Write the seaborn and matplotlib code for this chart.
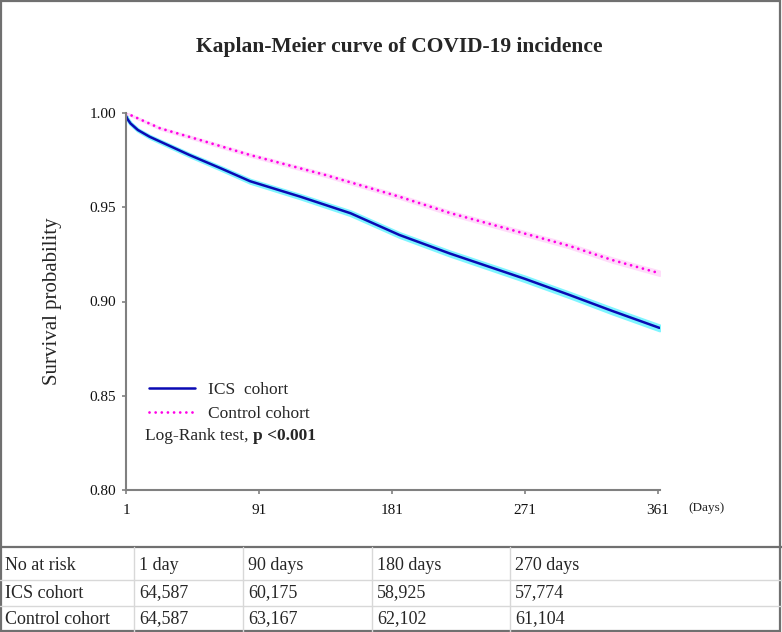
import seaborn as sns
import matplotlib.pyplot as plt
import pandas as pd
from matplotlib.patches import Rectangle
from matplotlib.lines import Line2D

# values
ics_days = [1, 2, 4, 9, 17, 44, 65, 85, 119, 153, 186, 220, 271, 301, 330, 362]
ics_surv = [0.9985, 0.9968, 0.9945, 0.991, 0.9874, 0.9777, 0.9707, 0.9638, 0.9556,
            0.9468, 0.9353, 0.9255, 0.912, 0.9035, 0.895, 0.886]
ics_band = [0.0, 0.0002, 0.0003, 0.0003, 0.0004, 0.0005, 0.0006, 0.0007, 0.0008,
            0.0009, 0.0009, 0.001, 0.0011, 0.0011, 0.0012, 0.0012]

ctrl_days = [1, 24, 51, 85, 136, 186, 220, 271, 301, 330, 362]
ctrl_surv = [1.000, 0.9919, 0.9857, 0.9777, 0.9671, 0.9556, 0.947, 0.936, 0.9295,
             0.922, 0.915]
ctrl_band = [0.0, 0.0003, 0.0004, 0.0005, 0.0006, 0.0007, 0.0008, 0.0009, 0.0009,
             0.001, 0.001]

x_ticks = [1, 91, 181, 271, 361]
y_ticks = [0.80, 0.85, 0.90, 0.95, 1.00]

risk_header = ["No at risk", "1 day", "90 days", "180 days", "270 days"]
risk_ics = ["ICS cohort", "64,587", "60,175", "58,925", "57,774"]
risk_ctrl = ["Control cohort", "64,587", "63,167", "62,102", "61,104"]

ics = pd.DataFrame({"day": ics_days, "surv": ics_surv, "band": ics_band})
ctrl = pd.DataFrame({"day": ctrl_days, "surv": ctrl_surv, "band": ctrl_band})

sns.set_style("ticks")
plt.rcParams["font.family"] = ["Liberation Serif", "DejaVu Serif"]

W, H = 782, 632
BLUE = "#0a0ab4"
MAGENTA = "#ff00e6"
DOTS = (0, (0.01, 2.2))

fig = plt.figure(figsize=(W / 100, H / 100), dpi=100)
ax = fig.add_axes([126 / W, 1 - 490 / H, 533.5 / W, 377 / H])

ax.fill_between(ics["day"], ics["surv"] - ics["band"], ics["surv"] + ics["band"],
                color="#7ff5ff", lw=2.5)
ax.fill_between(ctrl["day"], ctrl["surv"] - ctrl["band"], ctrl["surv"] + ctrl["band"],
                color="#ffdcfa", lw=2.0)
sns.lineplot(data=ics, x="day", y="surv", ax=ax, color=BLUE, lw=1.8)
sns.lineplot(data=ctrl, x="day", y="surv", ax=ax, color=MAGENTA, lw=2.0,
             linestyle=DOTS, dash_capstyle="round")

ax.set_xlim(1, 362)
ax.set_ylim(0.80, 1.00)
ax.set_xticks(x_ticks)
ax.set_yticks(y_ticks)
ax.set_yticklabels([f"{v:.2f}" for v in y_ticks])
ax.tick_params(labelsize=11, length=3, width=1.2, color="#808080",
               labelcolor="#111111")
ax.tick_params(axis="x", pad=7)
ax.tick_params(axis="y", pad=4)
ax.set_xlabel("")
ax.set_ylabel("Survival probability", fontsize=15)
ax.yaxis.set_label_coords((62 - 126) / 533.5, 0.5)
for s in ["top", "right"]:
    ax.spines[s].set_visible(False)
for s in ["left", "bottom"]:
    ax.spines[s].set_color("#808080")
    ax.spines[s].set_linewidth(1.5)
ax.spines["left"].set_zorder(5)

handles = [Line2D([], [], color=BLUE, lw=1.8),
           Line2D([], [], color=MAGENTA, lw=2.0, linestyle=DOTS,
                  dash_capstyle="round")]
ax.legend(handles, ["ICS  cohort", "Control cohort"], loc="upper left",
          bbox_to_anchor=(0.026, 0.31), frameon=False, fontsize=12.5,
          handlelength=2.7, handletextpad=0.75, borderpad=0, labelspacing=0.45)
t = ax.text(0.0356, 0.132, "Log-Rank test, ", transform=ax.transAxes, fontsize=12.5,
            va="baseline")
ax.annotate("p <0.001", xy=(1, 0), xycoords=t, va="bottom", fontsize=12.5,
            fontweight="bold")

fig.text(688 / W, 1 - 508 / H, "(Days)", fontsize=9.5, ha="left", va="center")
fig.text(399 / W, 1 - 47 / H, "Kaplan-Meier curve of COVID-19 incidence",
         fontsize=15.5, fontweight="bold", ha="center", va="center")

# number-at-risk table
fig.add_artist(Line2D([0, 1], [1 - 547 / H] * 2, color="#707070", lw=1.6))
for yy in [580, 606]:
    fig.add_artist(Line2D([0, 1], [1 - yy / H] * 2, color="#d8d8d8", lw=1.0))
col_lines = [134, 243, 372, 510]
for xx in col_lines:
    fig.add_artist(Line2D([xx / W] * 2, [1 - 547 / H, 0], color="#d8d8d8", lw=1.0))
col_x = [5, 139, 248, 377, 515]
for row, yy in zip([risk_header, risk_ics, risk_ctrl], [565, 593, 619]):
    for txt, xx in zip(row, col_x):
        fig.text(xx / W, 1 - yy / H, txt, fontsize=13, ha="left", va="center")

fig.add_artist(Rectangle((0.001, 0.001), 0.997, 0.997, transform=fig.transFigure,
                         fill=False, ec="#707070", lw=1.6))

fig.savefig("out.png", dpi=100)
